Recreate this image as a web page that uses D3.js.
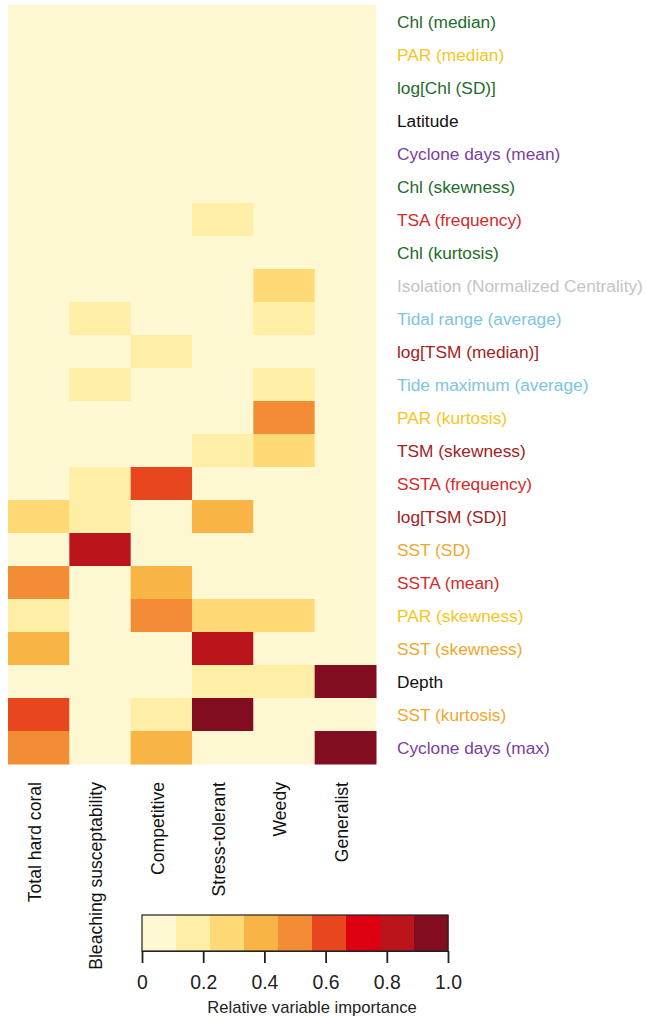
<!DOCTYPE html>
<html>
<head>
<meta charset="utf-8">
<script src="https://cdn.jsdelivr.net/npm/d3@7"></script>
<style>
  body { margin: 0; background: #fff; }
  text { font-family: "Liberation Sans", Arial, sans-serif; }
</style>
</head>
<body>
<svg class="chart" width="646" height="1020"></svg>
<script>
var columns = ["Total hard coral", "Bleaching susceptability", "Competitive", "Stress-tolerant", "Weedy", "Generalist"];

var rows = ["Chl (median)", "PAR (median)", "log[Chl (SD)]", "Latitude", "Cyclone days (mean)",
    "Chl (skewness)", "TSA (frequency)", "Chl (kurtosis)", "Isolation (Normalized Centrality)",
    "Tidal range (average)", "log[TSM (median)]", "Tide maximum (average)", "PAR (kurtosis)",
    "TSM (skewness)", "SSTA (frequency)", "log[TSM (SD)]", "SST (SD)", "SSTA (mean)",
    "PAR (skewness)", "SST (skewness)", "Depth", "SST (kurtosis)", "Cyclone days (max)"];

// colour group of each row label
var rowGroup = ["chl", "par", "chl", "none", "cyclone", "chl", "anom", "chl", "iso",
    "tide", "tsm", "tide", "par", "tsm", "anom", "tsm", "sst", "anom",
    "par", "sst", "none", "sst", "cyclone"];

// one array per row, values in column order
var importance = [
    [0, 0, 0, 0, 0, 0],
    [0, 0, 0, 0, 0, 0],
    [0, 0, 0, 0, 0, 0],
    [0, 0, 0, 0, 0, 0],
    [0, 0, 0, 0, 0, 0],
    [0, 0, 0, 0, 0, 0],
    [0, 0, 0, 0.17, 0, 0],
    [0, 0, 0, 0, 0, 0],
    [0, 0, 0, 0, 0.28, 0],
    [0, 0.17, 0, 0, 0.17, 0],
    [0, 0, 0.17, 0, 0, 0],
    [0, 0.17, 0, 0, 0.17, 0],
    [0, 0, 0, 0, 0.5, 0],
    [0, 0, 0, 0.17, 0.28, 0],
    [0, 0.17, 0.62, 0, 0, 0],
    [0.28, 0.17, 0, 0.4, 0, 0],
    [0, 0.83, 0, 0, 0, 0],
    [0.5, 0, 0.4, 0, 0, 0],
    [0.17, 0, 0.5, 0.28, 0.28, 0],
    [0.4, 0, 0, 0.83, 0, 0],
    [0, 0, 0, 0.17, 0.17, 0.95],
    [0.62, 0, 0.17, 0.95, 0, 0],
    [0.5, 0, 0.4, 0, 0, 0.95]
];

var legendTicks = [0, 0.2, 0.4, 0.6, 0.8, 1.0];

var palette = ["#fef8d2", "#ffeea6", "#fed976", "#f9b446", "#f28c35", "#e8461f", "#dc0011", "#bb141b", "#820d20"];

var groupColor = {
    chl: "#226b2c", par: "#f6c522", none: "#111111", cyclone: "#7a3f9d",
    anom: "#d52a2a", iso: "#c4c4c4", tide: "#7cc5de", tsm: "#a2221d", sst: "#f2a62c"
};

var svg = d3.select(".chart");

var x = d3.scaleBand().domain(columns).range([8, 376]),
    y = d3.scaleBand().domain(rows).range([5, 764]);

var color = d3.scaleQuantize().domain([0, 1]).range(palette);

var cells = [];
importance.forEach(function(r, i) {
    r.forEach(function(v, j) {
        cells.push({ row: rows[i], col: columns[j], value: v });
    });
});

svg.append("g")
    .attr("class", "cells")
    .selectAll("rect")
    .data(cells)
    .enter().append("rect")
    .attr("x", function(d) { return x(d.col); })
    .attr("y", function(d) { return y(d.row); })
    .attr("width", x.bandwidth() + 0.5)
    .attr("height", y.bandwidth() + 0.5)
    .attr("fill", function(d) { return color(d.value); });

// row labels on the right
svg.append("g")
    .selectAll("text")
    .data(rows)
    .enter().append("text")
    .attr("x", 397)
    .attr("y", function(d) { return y(d) + y.bandwidth() / 2; })
    .attr("dy", "0.35em")
    .attr("font-size", "17.3px")
    .attr("fill", function(d, i) { return groupColor[rowGroup[i]]; })
    .text(function(d) { return d; });

// column labels, rotated
svg.append("g")
    .selectAll("text")
    .data(columns)
    .enter().append("text")
    .attr("transform", function(d) {
        return "translate(" + (x(d) + x.bandwidth() / 2 - 4) + ",782) rotate(-90)";
    })
    .attr("dy", "0.35em")
    .attr("text-anchor", "end")
    .attr("font-size", "17.6px")
    .attr("fill", "#111")
    .text(function(d) { return d; });

// colour legend
var lx = d3.scaleLinear().domain([0, 1]).range([142, 448]);
var legend = svg.append("g").attr("class", "legend");

legend.selectAll("rect")
    .data(palette)
    .enter().append("rect")
    .attr("x", function(d, i) { return lx(i / palette.length); })
    .attr("y", 915)
    .attr("width", (lx(1) - lx(0)) / palette.length + 0.5)
    .attr("height", 36)
    .attr("fill", function(d) { return d; });

legend.append("rect")
    .attr("x", lx(0))
    .attr("y", 915)
    .attr("width", lx(1) - lx(0))
    .attr("height", 36)
    .attr("fill", "none")
    .attr("stroke", "#222")
    .attr("stroke-width", 1.2);

var axis = legend.append("g")
    .attr("transform", "translate(0,951)")
    .call(d3.axisBottom(lx)
        .tickValues(legendTicks)
        .tickSize(12)
        .tickSizeOuter(0)
        .tickPadding(12)
        .tickFormat(function(d) { return d === 0 ? "0" : d3.format(".1f")(d); }));

axis.select(".domain").attr("stroke", "#222").attr("stroke-width", 1.2);
axis.selectAll(".tick line").attr("stroke", "#222").attr("stroke-width", 1.8);
axis.selectAll(".tick text")
    .attr("font-family", "Liberation Sans, Arial, sans-serif")
    .attr("font-size", "19.4px")
    .attr("fill", "#222");

legend.append("text")
    .attr("x", 312)
    .attr("y", 1013)
    .attr("text-anchor", "middle")
    .attr("font-size", "16.6px")
    .attr("fill", "#222")
    .text("Relative variable importance");
</script>
</body>
</html>
